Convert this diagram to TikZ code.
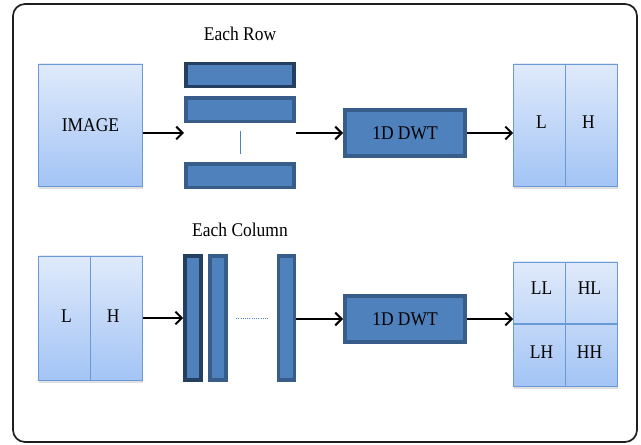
\documentclass[tikz,border=0pt]{standalone}
\usepackage{fontspec}
\setmainfont{Liberation Serif}[FakeStretch=0.9]
\usepackage{xcolor}
\usepackage{tikz}
\usetikzlibrary{arrows.meta,positioning,shadows}
\definecolor{paleblue}{HTML}{E0EAFB}
\definecolor{skyblue}{HTML}{A3C4F5}
\definecolor{edgeblue}{HTML}{6A9AD6}
\definecolor{barfill}{HTML}{4F81BD}
\definecolor{baredge}{HTML}{385D8A}
\definecolor{navy}{HTML}{253F61}
\definecolor{framecol}{HTML}{1E1E1E}

\begin{document}
\begin{tikzpicture}[
    font=\fontsize{13.8}{16}\selectfont,
    lightbox/.style={draw=edgeblue, line width=0.6pt, top color=paleblue, bottom color=skyblue,
                     minimum width=2.6cm, minimum height=3.05cm, inner sep=0pt,
                     drop shadow={shadow xshift=0.3pt, shadow yshift=-1.8pt, opacity=0.25}},
    rowbar/.style={draw=baredge, line width=0.09cm, fill=barfill,
                   minimum width=2.71cm, minimum height=0.58cm, inner sep=0pt},
    colbar/.style={draw=baredge, line width=0.09cm, fill=barfill,
                   minimum width=0.4cm, minimum height=3.11cm, inner sep=0pt},
    firstbar/.style={draw=navy},
    dwt/.style={draw=baredge, line width=0.09cm, fill=barfill,
                minimum width=3.01cm, minimum height=1.14cm, inner sep=0pt},
    arr/.style={-{Straight Barb[length=1.6mm,width=3.2mm]}, line width=1.4pt, draw=black},
    divider/.style={draw=edgeblue, line width=0.8pt},
    gap/.style={draw=barfill, line width=0.6pt, shorten >=0.2cm, shorten <=0.2cm}
  ]
  \useasboundingbox (0,0) rectangle (16.025,-11.125);

  %%%%%%%%%%%%% Frame %%%%%%%%%%%%%
  \draw[framecol, line width=1.2pt, rounded corners=0.3cm] (0.325,-0.1) rectangle (15.925,-11.05);

  %%%%%%%%%%%%% Top: rows %%%%%%%%%%%%%
  \node[lightbox] (image) at (2.2625,-3.125) {IMAGE};
  \node[rowbar, firstbar] (rowA) at (6.0,-1.875) {};
  \node[rowbar, below=0.2cm of rowA] (rowB) {};
  \node[rowbar, below=0.98cm of rowB] (rowC) {};
  \node[above=0.4cm of rowA] (eachrow) {Each Row};
  \node[dwt] (dwtA) at (10.125,-3.325) {1D DWT};
  \node[lightbox] (lhA) at (14.1375,-3.125) {};
  \node (lhAL) at ([xshift=-0.6cm,yshift=0.07cm]lhA.center) {L};
  \node (lhAH) at ([xshift=0.57cm,yshift=0.07cm]lhA.center) {H};

  \draw[gap] (rowB) -- (rowC);
  \draw[divider] (lhA.north) -- (lhA.south);
  \draw[arr] (image.east |- dwtA) -- (rowB.west |- dwtA);
  \draw[arr] (rowB.east |- dwtA) -- (dwtA);
  \draw[arr] (dwtA) -- (lhA.west |- dwtA);

  %%%%%%%%%%%%% Bottom: columns %%%%%%%%%%%%%
  \node[lightbox, minimum height=3.1cm] (lhB) at (2.2625,-7.95) {};
  \node (lhBL) at ([xshift=-0.6cm,yshift=0.05cm]lhB.center) {L};
  \node (lhBH) at ([xshift=0.57cm,yshift=0.05cm]lhB.center) {H};
  \node[colbar, firstbar] (colA) at (4.825,-7.95) {};
  \node[colbar, right=0.14cm of colA] (colB) {};
  \node[colbar, right=1.22cm of colB] (colC) {};
  \node (eachcol) at (6.0,-5.75) {Each Column};
  \node[dwt] (dwtB) at (10.125,-7.975) {1D DWT};
  \node[lightbox, minimum height=3.1cm] (quad) at (14.1375,-8.1) {};
  \node (quadLL) at ([xshift=-0.6cm,yshift=0.9cm]quad.center) {LL};
  \node (quadHL) at ([xshift=0.6cm,yshift=0.9cm]quad.center) {HL};
  \node (quadLH) at ([xshift=-0.6cm,yshift=-0.7cm]quad.center) {LH};
  \node (quadHH) at ([xshift=0.6cm,yshift=-0.7cm]quad.center) {HH};

  \draw[gap, densely dotted] (colB) -- (colC);
  \draw[divider] (lhB.north) -- (lhB.south);
  \draw[divider] (quad.north) -- (quad.south);
  \draw[divider] (quad.west) -- (quad.east);
  \draw[arr] (lhB) -- (colA);
  \draw[arr] (colC.east |- dwtB) -- (dwtB);
  \draw[arr] (dwtB) -- (quad.west |- dwtB);

\end{tikzpicture}
\end{document}
